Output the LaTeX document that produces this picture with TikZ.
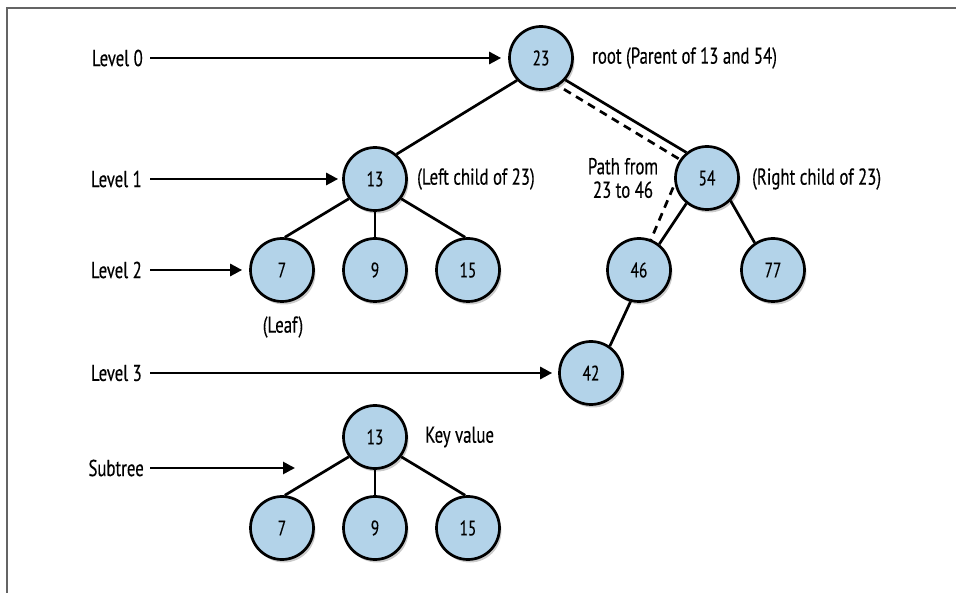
\documentclass[tikz,border=0pt]{standalone}
\usepackage{fontspec}
\setmainfont{PT Sans}[FakeStretch=0.73,FakeBold=0.3]
\usetikzlibrary{arrows.meta,shadows,backgrounds}
\definecolor{nodeblue}{RGB}{179,211,233}
\definecolor{framegray}{RGB}{100,100,100}
\begin{document}
\begin{tikzpicture}[x=1pt,y=-1pt,
  tn/.style={circle,draw=black,line width=2.7pt,fill=nodeblue,minimum size=63pt,inner sep=0pt,
    font=\fontsize{21}{24}\selectfont,
    drop shadow={shadow xshift=2pt,shadow yshift=-3pt,fill=black!45,opacity=0.45}},
  lbl/.style={font=\fontsize{23}{23.5}\selectfont,inner sep=0pt},
  edge/.style={line width=2.7pt},
  arr/.style={line width=2.7pt,-{Triangle[length=12pt,width=12pt]}},
  pathdash/.style={line width=2.7pt,dash pattern=on 8pt off 6pt},
]
\useasboundingbox (0,0) rectangle (956,593);
\draw[framegray,line width=2pt] (6.5,593) -- (6.5,8.5) -- (956,8.5);

% main tree
\node[tn] (n23) at (541,58) {23};
\node[tn] (n13) at (375,179) {13};
\node[tn] (n54) at (707,178) {54};
\node[tn] (n7) at (282,270) {7};
\node[tn] (n9) at (375,270) {9};
\node[tn] (n15) at (468,270) {15};
\node[tn] (n46) at (639,270) {46};
\node[tn] (n77) at (773,270) {77};
\node[tn] (n42) at (591,373) {42};

% subtree
\node[tn] (s13) at (375,437) {13};
\node[tn] (s7) at (282,528) {7};
\node[tn] (s9) at (375,528) {9};
\node[tn] (s15) at (468,528) {15};

% edges
\draw[edge] (n23.-137) -- (n13.49);
\draw[edge] (n23.-42) -- (n54.129);
\draw[edge] (n13.-143) -- (n7.85);
\draw[edge] (n13.-90) -- (n9.90);
\draw[edge] (n13.-37) -- (n15.95);
\draw[edge] (n54.-129) -- (n46.52);
\draw[edge] (n54.-44) -- (n77.124);
\draw[edge] (n46.-105) -- (n42.55);
\draw[edge] (s13.-143) -- (s7.85);
\draw[edge] (s13.-90) -- (s9.90);
\draw[edge] (s13.-37) -- (s15.95);

% dashed path 23 -> 54 -> 46
\coordinate (d1) at (552,82);
\coordinate (d2) at (684,162);
\coordinate (d3) at (646.5,250);
\begin{pgfonlayer}{background}
\draw[pathdash] (d1) -- (d2) -- (d3);
\end{pgfonlayer}

% level labels
\node[lbl,anchor=east] (l0) at (143,58) {Level 0};
\node[lbl,anchor=east] (l1) at (142,179) {Level 1};
\node[lbl,anchor=east] (l2) at (142,270) {Level 2};
\node[lbl,anchor=east] (l3) at (142,373) {Level 3};
\node[lbl,anchor=east] (lst) at (144,468) {Subtree};
\coordinate (stend) at (295,468);

\draw[arr,shorten <=7pt,shorten >=7pt] (l0) -- (n23);
\draw[arr,shorten <=8pt,shorten >=4pt] (l1) -- (n13);
\draw[arr,shorten <=8pt,shorten >=7pt] (l2) -- (n7);
\draw[arr,shorten <=8pt,shorten >=6pt] (l3) -- (n42);
\draw[arr,shorten <=6pt] (lst.east) -- (stend);

% annotations
\node[lbl,anchor=west] (troot) at (592,58) {root (Parent of 13 and 54)};
\node[lbl,anchor=west] (tleft) at (417,179) {(Left child of 23)};
\node[lbl,anchor=west] (tright) at (752,179) {(Right child of 23)};
\node[lbl,align=center] (tpath) at (623,178) {Path from\\23 to 46};
\node[lbl] (tleaf) at (283,327) {(Leaf)};
\node[lbl,anchor=west] (tkey) at (425,437) {Key value};
\end{tikzpicture}
\end{document}
